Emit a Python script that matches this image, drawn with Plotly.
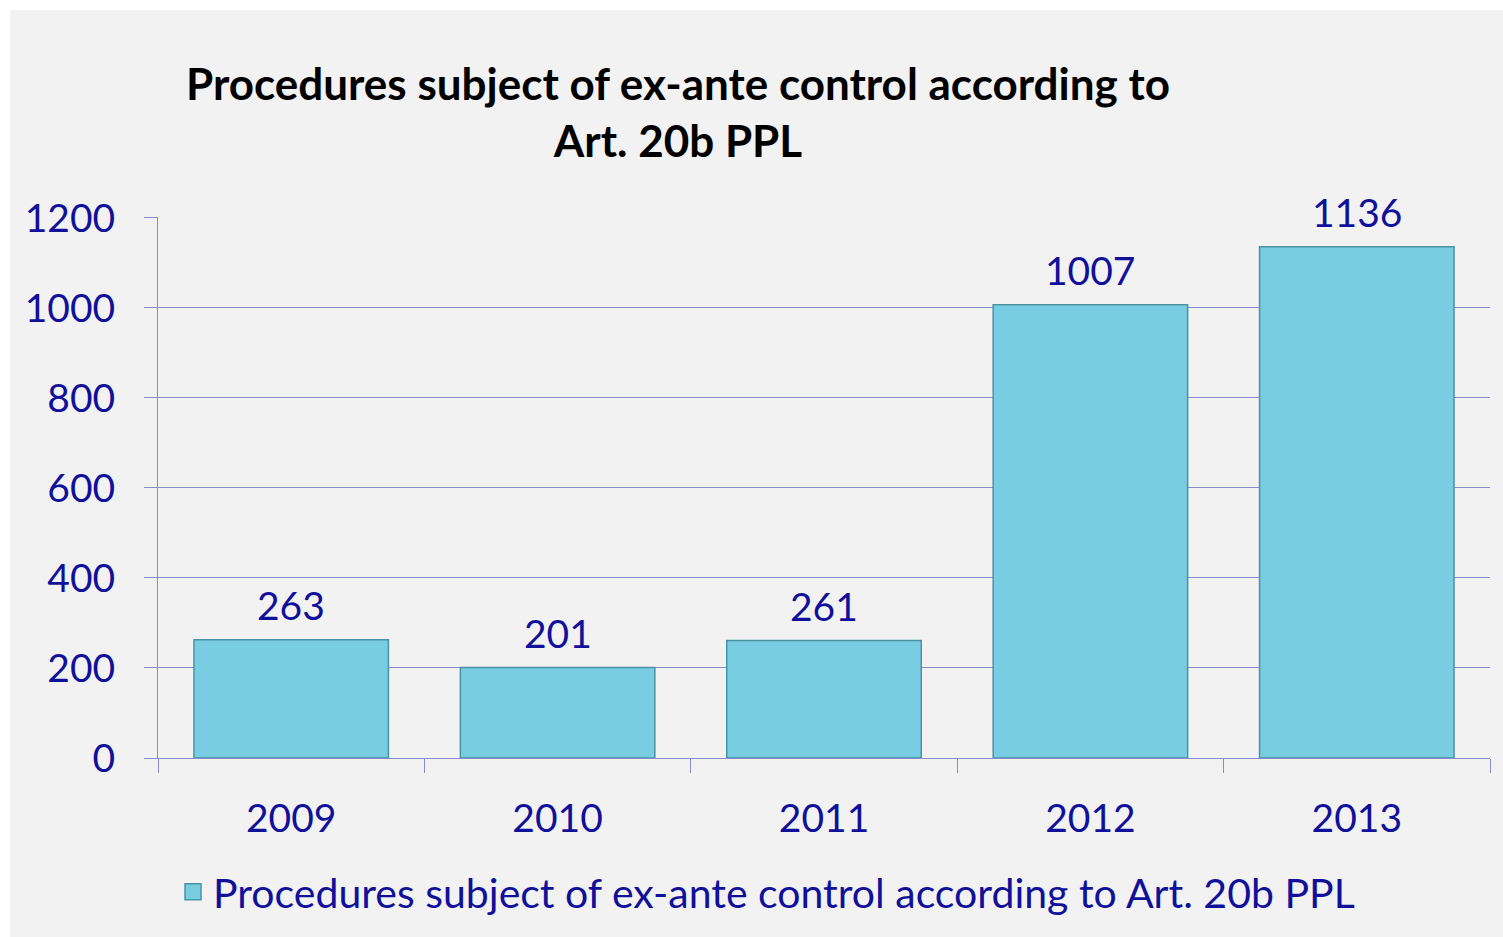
import plotly.graph_objects as go

years = ["2009", "2010", "2011", "2012", "2013"]
procedures = [263, 201, 261, 1007, 1136]
series_name = "Procedures subject of ex-ante control according to Art. 20b PPL"
title_text = "Procedures subject of ex-ante control according to<br>Art. 20b PPL"
y_ticks = [0, 200, 400, 600, 800, 1000, 1200]

W, H = 1503, 937
navy = "#10109a"
grid = "#8a8ac8"
bar_fill = "#78cde2"
bar_edge = "#4a93a5"
panel = "#f2f2f2"
font_family = "Lato, Carlito, Calibri, sans-serif"

fig = go.Figure()
fig.add_trace(go.Bar(
    x=years, y=procedures, name=series_name, showlegend=False,
    marker=dict(color=bar_fill, line=dict(color=bar_edge, width=1.5)),
    width=0.73,
))
# legend entry with a larger square symbol
fig.add_trace(go.Scatter(
    x=[years[0]], y=[None], mode="markers", name=series_name,
    marker=dict(symbol="square", size=26, color=bar_fill, line=dict(color=bar_edge, width=1.5)),
))

# data labels above bars (x given as category index)
for i, v in enumerate(procedures):
    fig.add_annotation(x=i, y=v, text=str(v), showarrow=False, yanchor="middle", yshift=35,
                       font=dict(size=39, color=navy, family=font_family))

plot_l, plot_r, plot_t, plot_b = 158, 1490, 217, 758
fig.update_layout(
    width=W, height=H,
    paper_bgcolor="white", plot_bgcolor=panel,
    margin=dict(l=plot_l, r=W - plot_r, t=plot_t, b=H - plot_b),
    font=dict(family=font_family, color=navy, size=39),
    title=dict(text=title_text, xref="container", yref="container",
               x=678 / W, xanchor="center", y=1 - 100 / H, yanchor="middle",
               font=dict(family=font_family, size=44, color="black", weight="bold")),
    showlegend=True,
    legend=dict(orientation="h", xref="container", yref="container",
                x=173 / W, xanchor="left", y=1 - 892 / H, yanchor="middle",
                itemsizing="trace",
                bgcolor="rgba(0,0,0,0)", font=dict(size=41, color=navy, family=font_family)),
    shapes=[dict(type="rect", xref="paper", yref="paper", layer="below",
                 x0=(10 - plot_l) / (plot_r - plot_l), x1=1.05,
                 y0=-0.5, y1=(plot_b - 10) / (plot_b - plot_t),
                 fillcolor=panel, line=dict(width=0))],
)
fig.update_yaxes(range=[0, 1202], tickvals=y_ticks, showgrid=True, gridcolor=grid, gridwidth=1,
                 ticks="outside", ticklen=13, tickcolor=grid, showline=True, linecolor=grid,
                 zeroline=False, ticklabelstandoff=21,
                 tickfont=dict(size=39, color=navy, family=font_family))
fig.update_xaxes(type="category", categoryorder="array", categoryarray=years,
                 range=[-0.5, len(years) - 0.5],
                 showgrid=False, ticks="outside", tickson="boundaries", ticklen=14, tickcolor=grid,
                 showline=True, linecolor=grid, ticklabelstandoff=26, tickangle=0,
                 tickfont=dict(size=39, color=navy, family=font_family))

fig.write_html("out.html", config={"displayModeBar": False},
               post_script="document.body.style.margin='0px';")
